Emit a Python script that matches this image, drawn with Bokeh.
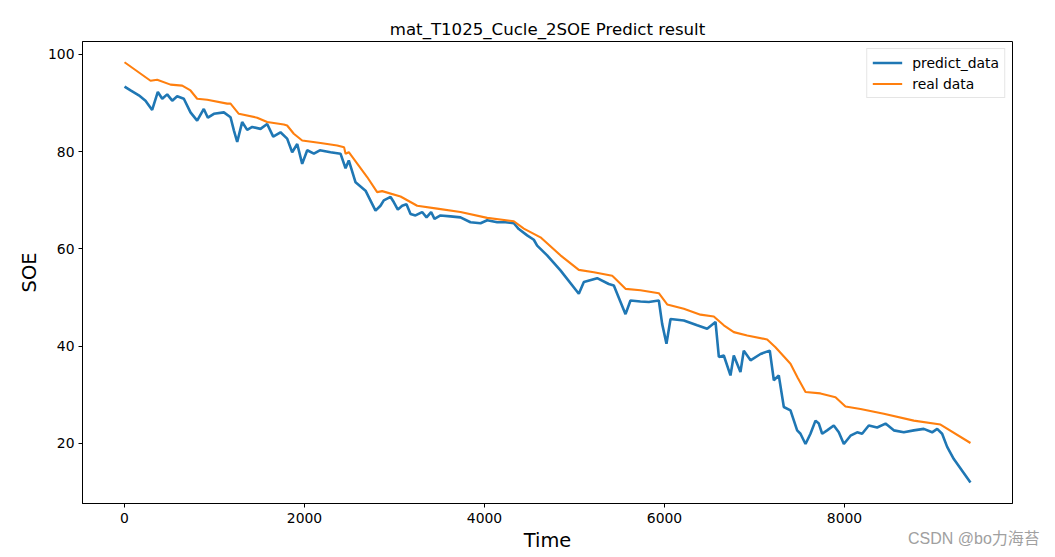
from bokeh.plotting import figure
from bokeh.layouts import column
from bokeh.models import Range1d, FixedTicker, Legend, LegendItem, Div
from bokeh.embed import file_html
from bokeh.resources import INLINE

# real data (orange)
real_t = [0, 289, 363, 511, 641, 733, 807, 919, 1141, 1178, 1270, 1474, 1585, 1770, 1807, 1881, 1974,
          2178, 2363, 2440, 2456, 2492, 2696, 2807, 2863, 3067, 3252, 3474, 3733, 4030, 4326, 4437,
          4622, 4844, 5048, 5215, 5419, 5437, 5567, 5733, 5937, 6030, 6215, 6400, 6548, 6659, 6770,
          6919, 7141, 7233, 7400, 7480, 7567, 7733, 7900, 8011, 8178, 8437, 8770, 9067, 9400]
real_v = [98.4, 94.6, 94.8, 93.8, 93.6, 92.6, 90.9, 90.7, 89.9, 89.9, 87.8, 87.0, 86.1, 85.6, 85.4, 83.7, 82.3,
          81.8, 81.3, 80.9, 79.6, 79.9, 74.8, 71.7, 71.9, 70.8, 68.9, 68.3, 67.6, 66.4, 65.7, 64.2,
          62.4, 58.7, 55.7, 55.2, 54.5, 54.2, 51.8, 51.5, 50.9, 48.6, 47.7, 46.5, 46.1, 44.3, 42.9,
          42.2, 41.4, 39.8, 36.4, 33.5, 30.6, 30.3, 29.5, 27.6, 27.1, 26.1, 24.7, 23.9, 20.1]

# predict data (blue)
pred_t = [0, 67, 159, 233, 307, 370, 419, 474, 530, 585, 659, 733, 807, 881, 926, 993, 1104, 1178,
          1215, 1252, 1307, 1363, 1419, 1511, 1585, 1652, 1733, 1807, 1863, 1919, 1974, 2030, 2104,
          2170, 2289, 2400, 2456, 2492, 2567, 2678, 2789, 2844, 2881, 2956, 2993, 3037, 3085, 3133,
          3178, 3233, 3307, 3356, 3407, 3444, 3511, 3622, 3733, 3844, 3956, 4030, 4141, 4233, 4326,
          4381, 4474, 4548, 4585, 4696, 4844, 5048, 5104, 5252, 5381, 5437, 5567, 5622, 5733, 5826,
          5937, 5974, 6022, 6067, 6215, 6363, 6474, 6567, 6604, 6659, 6733, 6770, 6844, 6881, 6956,
          7067, 7170, 7215, 7270, 7326, 7400, 7474, 7511, 7567, 7622, 7678, 7715, 7752, 7807, 7881,
          7937, 7993, 8067, 8141, 8196, 8270, 8363, 8456, 8548, 8659, 8770, 8881, 8974, 9030, 9085,
          9141, 9215, 9400]
pred_v = [93.4, 92.6, 91.6, 90.5, 88.6, 92.3, 90.9, 91.8, 90.5, 91.4, 90.9, 88.1, 86.4, 88.8, 87.0, 87.8, 88.1, 87.1,
          84.4, 82.0, 86.1, 84.5, 85.1, 84.7, 85.7, 83.1, 84.0, 82.7, 79.9, 81.6, 77.5, 80.3, 79.6,
          80.3, 79.9, 79.6, 76.6, 78.2, 73.7, 72.0, 67.9, 68.9, 70.0, 70.7, 69.6, 68.1, 68.9, 69.2,
          67.2, 66.9, 67.6, 66.5, 67.6, 66.2, 66.9, 66.7, 66.5, 65.5, 65.3, 65.9, 65.5, 65.5, 65.3,
          64.1, 62.8, 61.9, 60.7, 58.7, 55.6, 50.8, 53.2, 54.0, 52.8, 52.5, 46.6, 49.4, 49.2, 49.1,
          49.4, 44.6, 40.5, 45.6, 45.3, 44.3, 43.6, 45.0, 37.8, 38.1, 34.0, 38.1, 34.7, 39.1, 37.1,
          38.4, 39.1, 33.0, 34.0, 27.5, 26.8, 22.7, 22.0, 19.9, 22.0, 24.7, 24.1, 22.0, 22.7, 23.7,
          22.3, 19.9, 21.6, 22.3, 22.0, 23.7, 23.3, 24.1, 22.7, 22.3, 22.7, 23.0, 22.3, 23.0, 22.0,
          19.3, 16.8, 12.0]

x_ticks = [0, 2000, 4000, 6000, 8000]
y_ticks = [20, 40, 60, 80, 100]

FONT = "DejaVu Sans"

p = figure(width=1055, height=557, output_backend="svg", toolbar_location=None,
           x_range=Range1d(-467, 9867), y_range=Range1d(7.66, 102.67),
           title="mat_T1025_Cucle_2SOE Predict result",
           x_axis_label="Time", y_axis_label="SOE",
           min_border_left=82, min_border_right=43, min_border_top=41, min_border_bottom=54)

p.title.align = "center"
p.title.text_font = FONT
p.title.text_font_size = "16.6px"
p.title.text_font_style = "normal"
p.title.text_color = "black"
p.title.standoff = 6

p.xgrid.visible = False
p.ygrid.visible = False
p.outline_line_color = "black"
p.outline_line_width = 1
p.outline_line_alpha = 1
p.background_fill_color = "white"
p.border_fill_color = "white"

p.xaxis.ticker = FixedTicker(ticks=x_ticks)
p.yaxis.ticker = FixedTicker(ticks=y_ticks)
for ax in (p.xaxis, p.yaxis):
    ax.axis_line_color = "black"
    ax.major_tick_line_color = "black"
    ax.major_tick_in = 0
    ax.major_tick_out = 4
    ax.minor_tick_line_color = None
    ax.major_label_text_font = FONT
    ax.major_label_text_font_size = "13.9px"
    ax.major_label_text_color = "black"
    ax.major_label_standoff = 4
    ax.axis_label_text_font = FONT
    ax.axis_label_text_font_size = "19.4px"
    ax.axis_label_text_font_style = "normal"
    ax.axis_label_text_color = "black"
p.xaxis.major_label_standoff = 5
p.xaxis.axis_label_standoff = 3
p.yaxis.axis_label_standoff = 4
p.yaxis.major_label_orientation = "horizontal"

r1 = p.line(pred_t, pred_v, line_color="#1f77b4", line_width=2.6)
r2 = p.line(real_t, real_v, line_color="#ff7f0e", line_width=2.1)

legend = Legend(items=[LegendItem(label="predict_data", renderers=[r1]),
                       LegendItem(label="real data", renderers=[r2])],
                location="top_right", margin=7, padding=5, spacing=4,
                glyph_width=30, glyph_height=17, label_height=17, label_standoff=10,
                label_text_font=FONT, label_text_font_size="13.9px", label_text_color="black",
                border_line_color="#cccccc", border_line_width=1,
                background_fill_color="white", background_fill_alpha=0.8)
p.add_layout(legend, "center")

wm = Div(text="CSDN @bo力海苔", width=140, height=20, margin=(-28, 0, 0, 908),
         styles={"font-family": "'Liberation Sans', 'Noto Sans CJK SC', sans-serif",
                 "font-size": "16px", "color": "#a0a0a0", "line-height": "20px",
                 "white-space": "nowrap"})

page = column(p, wm, spacing=0)

open("out.html", "w").write(file_html(page, INLINE))
